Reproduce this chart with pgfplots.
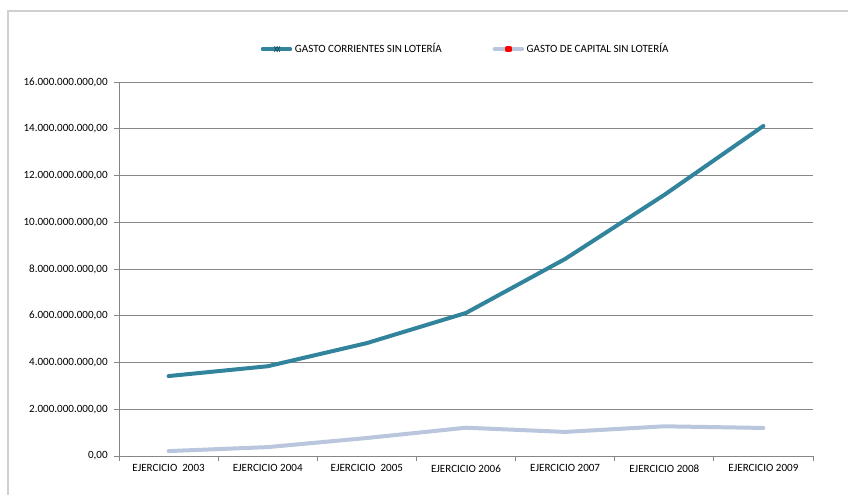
\documentclass[border=0pt]{standalone}
\usepackage{pgfplots}
\pgfplotsset{compat=1.18}
\usepackage{fontspec}
\setmainfont{Carlito}
\definecolor{tealc}{HTML}{31849B}
\definecolor{lightc}{HTML}{B9C6DE}
\definecolor{gridc}{HTML}{868686}
\definecolor{framec}{HTML}{D0D0D0}
\begin{document}
\begin{tikzpicture}[x=0.75pt,y=0.75pt]
\path[use as bounding box] (0,0) rectangle (848,495);
\draw[framec, line width=1.2pt] (8,-10) -- (8,484) -- (860,484);
\begin{axis}[
  at={(89.25pt,29.25pt)}, anchor=south west,
  scale only axis,
  width=520.5pt, height=280.5pt,
  xmin=-0.5, xmax=6.5, ymin=0, ymax=16,
  axis lines=left,
  axis line style={-, draw=gridc, line width=0.6pt},
  font=\fontsize{8.3}{10}\selectfont,
  ytick={0,2,...,16},
  yticklabels={{0,00},{2.000.000.000,00},{4.000.000.000,00},{6.000.000.000,00},{8.000.000.000,00},{10.000.000.000,00},{12.000.000.000,00},{14.000.000.000,00},{16.000.000.000,00}},
  ymajorgrids,
  grid style={draw=gridc, line width=0.6pt},
  tick style={draw=gridc, line width=0.6pt},
  tick align=outside,
  major tick length=4pt,
  yticklabel style={xshift=-1pt},
  xtick={-0.5,0.5,...,6.5},
  xticklabels={},
  extra x ticks={0,1,2,3,4,5,6},
  extra x tick labels={{EJERCICIO\ \ 2003},{EJERCICIO 2004},{EJERCICIO\ \ 2005},{EJERCICIO 2006},{EJERCICIO 2007},{EJERCICIO 2008},{EJERCICIO 2009}},
  extra x tick style={major tick length=0pt, xticklabel style={yshift=-3pt}},
  legend columns=2,
  legend style={at={(0.5,1.088)}, anchor=center, draw=none, fill=none,
    font=\fontsize{8.3}{10}\selectfont,
    /tikz/every even column/.append style={column sep=36pt}},
  legend cell align=left,
  clip=false,
]
\addplot[tealc, line width=3pt, line join=round, line cap=round,
  legend image code/.code={\draw[tealc, line width=2.6pt] (0pt,0pt) -- (21pt,0pt);
    \draw[tealc!60!black, line width=0.5pt] (9pt,-2pt) -- (11pt,2pt) (9pt,2pt) -- (11pt,-2pt) (11pt,-2pt) -- (13pt,2pt) (11pt,2pt) -- (13pt,-2pt);}]
 coordinates {
(0,3.42) (1,3.84) (2,4.83) (3,6.12) (4,8.43) (5,11.17) (6,14.12)};
\addlegendentry{GASTO CORRIENTES SIN LOTERÍA}
\addplot[lightc, line width=3pt, line join=round, line cap=round,
  legend image code/.code={\draw[lightc, line width=2.6pt] (0pt,0pt) -- (21pt,0pt);
    \fill[red] (9.5pt,-0.8pt) rectangle (12pt,0.8pt);}]
 coordinates {
(0,0.21) (1,0.38) (2,0.77) (3,1.21) (4,1.03) (5,1.27) (6,1.20)};
\addlegendentry{GASTO DE CAPITAL SIN LOTERÍA}
\end{axis}
\end{tikzpicture}
\end{document}
